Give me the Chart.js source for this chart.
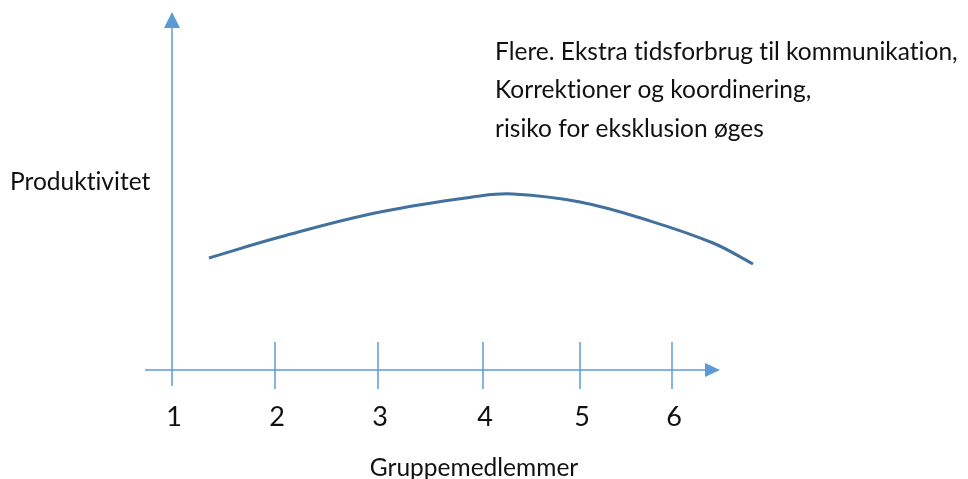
<!DOCTYPE html>
<html lang="da">
<head>
    <meta charset="UTF-8">
    <title>Produktivitet og gruppestørrelse</title>
    <script src="https://cdn.jsdelivr.net/npm/chart.js"></script>
    <style>
        html, body {
            margin: 0;
            padding: 0;
            background: #ffffff;
        }

        .chart-container {
            width: 968px;
            height: 479px;
        }
    </style>
</head>
<body>
    <div class="chart-container">
        <canvas id="productivityChart"></canvas>
    </div>

    <script>
        // Data
        const groupSize = [1.37, 2.08, 3.08, 4.08, 4.41, 5.08, 5.75, 6.41, 6.81];
        const productivity = [1.12, 1.33, 1.58, 1.74, 1.76, 1.68, 1.50, 1.27, 1.06];
        // hand-placed ticks in the sketch are not evenly spaced
        const tickValues = [1, 2.03, 3.06, 4.11, 5.08, 6];
        const tickLabels = ['1', '2', '3', '4', '5', '6'];
        const xTitle = 'Gruppemedlemmer';
        const yTitle = 'Produktivitet';
        const noteLines = [
            'Flere. Ekstra tidsforbrug til kommunikation,',
            'Korrektioner og koordinering,',
            'risiko for eksklusion øges'
        ];

        const axisColor = '#5B9BD5';
        const curveColor = '#41719C';
        const textColor = '#111111';
        const font = 'Lato, "Open Sans", sans-serif';

        // draws the arrow axes, tick marks and texts using the chart's scales
        const sketchAxes = {
            id: 'sketchAxes',
            afterDraw(chart) {
                const ctx = chart.ctx;
                const x = chart.scales.x;
                const y = chart.scales.y;
                const x0 = x.getPixelForValue(1);
                const y0 = y.getPixelForValue(0);

                ctx.save();
                ctx.strokeStyle = axisColor;
                ctx.fillStyle = axisColor;
                ctx.lineWidth = 1.5;

                // y axis
                ctx.beginPath();
                ctx.moveTo(x0, y0 + 16);
                ctx.lineTo(x0, y.getPixelForValue(3.43));
                ctx.stroke();
                const yTip = y.getPixelForValue(3.58);
                ctx.beginPath();
                ctx.moveTo(x0, yTip);
                ctx.lineTo(x0 - 8, yTip + 16);
                ctx.lineTo(x0 + 8, yTip + 16);
                ctx.closePath();
                ctx.fill();

                // x axis
                ctx.beginPath();
                ctx.moveTo(x.getPixelForValue(0.73), y0);
                ctx.lineTo(x.getPixelForValue(6.36), y0);
                ctx.stroke();
                const xTip = x.getPixelForValue(6.48);
                ctx.beginPath();
                ctx.moveTo(xTip, y0);
                ctx.lineTo(xTip - 15, y0 - 7);
                ctx.lineTo(xTip - 15, y0 + 7);
                ctx.closePath();
                ctx.fill();

                // tick marks
                tickValues.slice(1).forEach(v => {
                    const px = x.getPixelForValue(v);
                    ctx.beginPath();
                    ctx.moveTo(px, y0 - 28);
                    ctx.lineTo(px, y0 + 19);
                    ctx.stroke();
                });

                // tick labels
                ctx.fillStyle = textColor;
                ctx.letterSpacing = '0.01px'; // keeps Lato from joining "ti"
                ctx.font = '27px ' + font;
                ctx.textAlign = 'center';
                ctx.textBaseline = 'middle';
                tickValues.forEach((v, i) => {
                    ctx.fillText(tickLabels[i], x.getPixelForValue(v) + 2, y0 + 47);
                });

                // axis titles
                ctx.font = '24.5px ' + font;
                ctx.fillText(xTitle, 474, 468);
                ctx.textAlign = 'left';
                ctx.fillText(yTitle, 10, 182);

                // note
                noteLines.forEach((line, i) => {
                    ctx.fillText(line, 495, 52 + i * 38.5);
                });
                ctx.restore();
            }
        };

        const ctx = document.getElementById('productivityChart').getContext('2d');
        new Chart(ctx, {
            type: 'line',
            data: {
                datasets: [{
                    data: groupSize.map((g, i) => ({ x: g, y: productivity[i] })),
                    borderColor: curveColor,
                    borderWidth: 3,
                    pointRadius: 0,
                    tension: 0.4,
                    fill: false
                }]
            },
            options: {
                responsive: true,
                maintainAspectRatio: false,
                animation: false,
                layout: { padding: 0 },
                plugins: {
                    legend: { display: false },
                    tooltip: { enabled: false }
                },
                scales: {
                    x: { type: 'linear', display: false, min: -0.72, max: 8.96 },
                    y: { type: 'linear', display: false, min: -1.09, max: 3.70 }
                }
            },
            plugins: [sketchAxes]
        });
    </script>
</body>
</html>
